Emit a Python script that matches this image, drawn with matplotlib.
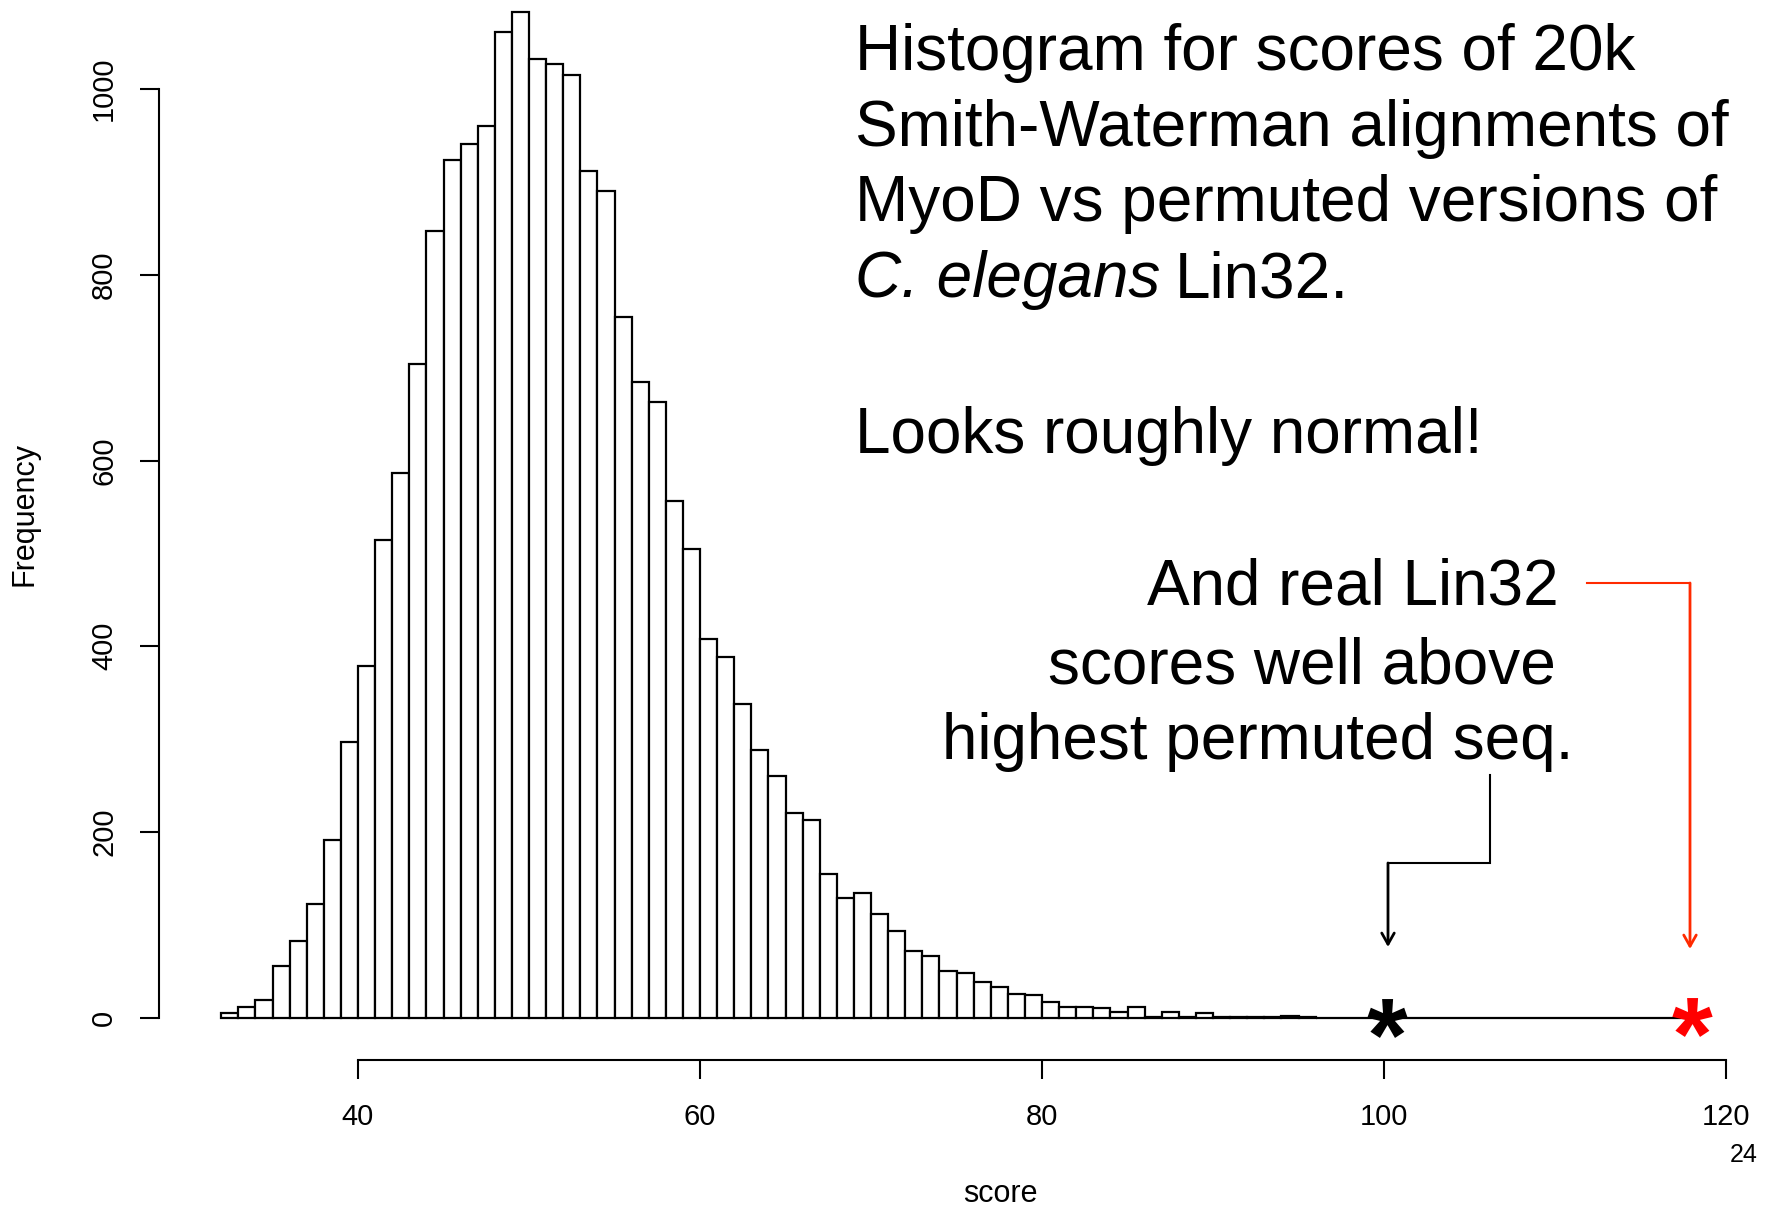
import matplotlib
matplotlib.use("Agg")
import matplotlib.pyplot as plt
import numpy as np
from matplotlib.textpath import TextPath
from matplotlib.font_manager import FontProperties
from matplotlib.path import Path

plt.rcParams['font.family'] = ['Liberation Sans', 'DejaVu Sans']

# ---- data ----
bin_lefts = list(range(32, 118))
counts = [5, 11, 19, 56, 83, 122, 191, 297, 379, 514, 587, 704, 847, 924, 941, 960,
          1062, 1083, 1032, 1027, 1015, 912, 890, 755, 685, 663, 557, 505, 408, 389,
          338, 288, 260, 220, 213, 155, 129, 134, 112, 93, 72, 66, 50, 48, 38, 33,
          26, 24, 17, 11, 11, 10, 6, 11, 1, 6, 1, 5, 1, 1, 1, 1, 2, 1] + [0] * 22
x_ticks = [40, 60, 80, 100, 120]
y_ticks = [0, 200, 400, 600, 800, 1000]
max_permuted_score = 100.2
real_lin32_score = 118.0

W, H = 1771, 1209
fig = plt.figure(figsize=(W / 100, H / 100), dpi=100)

# axes placement (pixels)
x0, x1 = 31, 121
y0, y1 = -20, 1090
ax_left = 358 + (x0 - 40) * 17.1
ax_right = 358 + (x1 - 40) * 17.1
ax_bottom_top = 1017.7 - y0 * 0.9285
ax_top_top = 1017.7 - y1 * 0.9285
ax = fig.add_axes([ax_left / W, 1 - ax_bottom_top / H,
                   (ax_right - ax_left) / W, (ax_bottom_top - ax_top_top) / H])
ax.set_xlim(x0, x1)
ax.set_ylim(y0, y1)

ax.bar(bin_lefts, counts, width=1, align='edge', color='white',
       edgecolor='black', linewidth=1.6)

# R-style detached axes
for s in ['top', 'right']:
    ax.spines[s].set_visible(False)
ax.spines['left'].set_position(('outward', (ax_left - 158.5) * 0.72))
ax.spines['left'].set_bounds(0, 1000)
ax.spines['bottom'].set_position(('outward', (1059.5 - ax_bottom_top) * 0.72))
ax.spines['bottom'].set_bounds(40, 120)
for s in ['left', 'bottom']:
    ax.spines[s].set_linewidth(1.5)
ax.set_xticks(x_ticks)
ax.set_yticks(y_ticks)
ax.set_yticklabels([str(v) for v in y_ticks], rotation=90, va='center')
ax.tick_params(axis='both', direction='out', length=14, width=1.5,
               labelsize=21, colors='black')
ax.tick_params(axis='x', pad=17)
ax.tick_params(axis='y', pad=15)

fig.text(25 / W, 1 - 514 / H, 'Frequency', rotation=90, fontsize=22,
         ha='center', va='center')
fig.text(1000 / W, 1 - 1194 / H, 'score', fontsize=22, ha='center', va='center')
fig.text(1744 / W, 1 - 1155 / H, '24', fontsize=18, ha='center', va='center')

# main annotation text
fs = 46
lines = ['Histogram for scores of 20k', 'Smith-Waterman alignments of',
         'MyoD vs permuted versions of']
baselines = [70, 146, 221]
for t, b in zip(lines, baselines):
    fig.text(855 / W, 1 - b / H, t, fontsize=fs, ha='left', va='baseline')
t1 = fig.text(855 / W, 1 - 297 / H, 'C. elegans', fontsize=fs, style='italic',
              ha='left', va='baseline')
fig.canvas.draw()
bb = t1.get_window_extent()
fig.text((bb.x1 + 14) / W, 1 - 297 / H, 'Lin32.', fontsize=fs, ha='left', va='baseline')
fig.text(855 / W, 1 - 453 / H, 'Looks roughly normal!', fontsize=fs, ha='left', va='baseline')

right_lines = ['And real Lin32', 'scores well above', 'highest permuted seq.']
right_x = [1559, 1556, 1573]
right_b = [605, 683, 759]
for t, rx, b in zip(right_lines, right_x, right_b):
    fig.text(rx / W, 1 - b / H, t, fontsize=fs, ha='right', va='baseline')

# asterisk markers built from the bold glyph, centred on its ink
tp = TextPath((0, 0), '*', size=100,
              prop=FontProperties(family='Liberation Sans', weight='bold'))
codes = np.array(tp.codes)
v = tp.vertices.copy()
real = codes != Path.CLOSEPOLY
cx = (v[real, 0].min() + v[real, 0].max()) / 2
cy = (v[real, 1].min() + v[real, 1].max()) / 2
v[:, 0] -= cx
v[:, 1] -= cy
v[~real] = 0.0
star = Path(v, codes)

ax.plot([max_permuted_score], [0], marker=star, ms=29, mfc='black', mec='black',
        mew=0, ls='none', clip_on=False, zorder=5)
ax.plot([real_lin32_score], [0.5], marker=star, ms=29, mfc='#ff0000', mec='#ff0000',
        mew=0, ls='none', clip_on=False, zorder=5)

# arrows
def px2data(px, py):
    return 40 + (px - 358) / 17.1, (1017.7 - py) / 0.9285

bx0, by0 = px2data(1490, 775)
bx1, by1 = px2data(1388, 863)
_, by2 = px2data(1388, 947)
ax.plot([bx0, bx0, bx1], [by0, by1, by1], color='black', lw=1.5,
        clip_on=False, solid_joinstyle='miter')
ax.annotate('', xy=(bx1, by2), xytext=(bx1, by1),
            arrowprops=dict(arrowstyle='->,head_length=0.8,head_width=0.45',
                            color='black', lw=2.0, shrinkA=0, shrinkB=0))

rx0, ry0 = px2data(1587, 583)
rx1, _ = px2data(1690, 583)
_, ry2 = px2data(1690, 949)
ax.plot([rx0, rx1], [ry0, ry0], color='#ff2a00', lw=1.5, clip_on=False)
ax.annotate('', xy=(rx1, ry2), xytext=(rx1, ry0),
            arrowprops=dict(arrowstyle='->,head_length=0.8,head_width=0.45',
                            color='#ff2a00', lw=2.0, shrinkA=0, shrinkB=0))

fig.savefig('out.png', dpi=100)
